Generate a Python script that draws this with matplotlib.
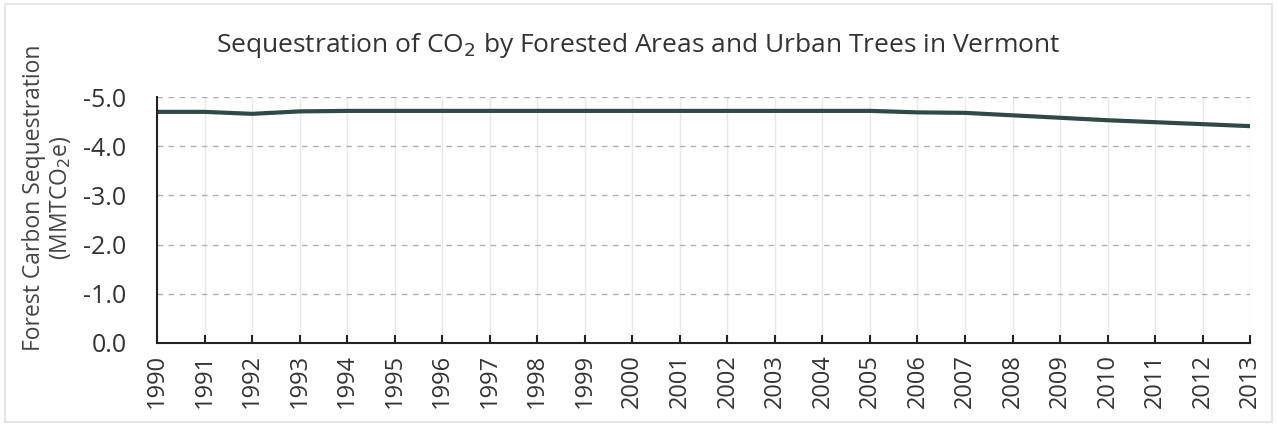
import matplotlib.pyplot as plt
import numpy as np
from matplotlib.patches import Rectangle

years = list(range(1990, 2014))
sequestration = [-4.70, -4.70, -4.66, -4.71, -4.72, -4.72, -4.72, -4.72, -4.72, -4.72,
                 -4.72, -4.72, -4.72, -4.72, -4.72, -4.72, -4.69, -4.68, -4.63, -4.58,
                 -4.53, -4.49, -4.45, -4.41]
y_ticks = [0.0, -1.0, -2.0, -3.0, -4.0, -5.0]

plt.rcParams['font.family'] = ['Open Sans', 'DejaVu Sans']

fig = plt.figure(figsize=(12.77, 4.26), dpi=100)
fig.patch.set_facecolor('white')
fig.patches.append(Rectangle((0.004, 0.01), 0.992, 0.98, transform=fig.transFigure,
                             fill=False, edgecolor='#e6e6e6', linewidth=1.5))

ax = fig.add_axes([0.123, 0.195, 0.856, 0.577])
ax.plot(years, sequestration, color='#2f4a44', linewidth=3)

ax.set_xlim(1990, 2013)
ax.set_ylim(0, -5.0)
ax.set_yticks(y_ticks)
ax.set_yticklabels([f'{v:.1f}' for v in y_ticks], fontsize=18, color='#333333')
ax.set_xticks(years)
ax.set_xticklabels([str(y) for y in years], rotation=90, fontsize=17, color='#333333')

ax.yaxis.grid(True, linestyle=(0, (4, 4)), color='#b0b0b0', linewidth=1)
ax.xaxis.grid(True, linestyle='-', color='#e8e8e8', linewidth=1)
ax.set_axisbelow(True)

ax.spines['top'].set_visible(False)
ax.spines['right'].set_visible(False)
ax.spines['left'].set_color('#222222')
ax.spines['bottom'].set_color('#222222')
ax.spines['left'].set_linewidth(1.5)
ax.spines['bottom'].set_linewidth(1.5)
ax.tick_params(axis='x', direction='in', length=6, width=1.5, color='#222222', pad=8)
ax.tick_params(axis='y', length=0, pad=22)

ax.set_ylabel('Forest Carbon Sequestration\n(MMTCO$_2$e)', fontsize=16.5, color='#444444',
              linespacing=1.1, va='center')
ax.yaxis.set_label_coords(-0.1, 0.59)
fig.text(0.5, 0.893, 'Sequestration of CO$_2$ by Forested Areas and Urban Trees in Vermont',
         ha='center', va='center', fontsize=19, color='#333333')

fig.savefig('out.png', dpi=100)
